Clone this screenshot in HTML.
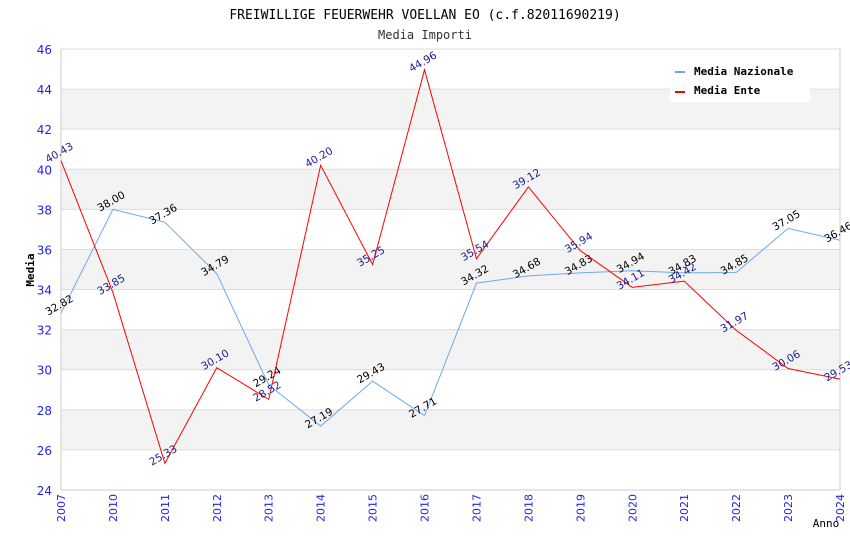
<!DOCTYPE html>
<html><head><meta charset="utf-8"><style>
body{margin:0;background:#fff}
svg{display:block}
text{font-family:"DejaVu Sans","Liberation Sans",sans-serif}
.mono{font-family:"DejaVu Sans Mono","Liberation Mono",monospace}
</style></head><body>
<svg id="chart" width="850" height="550" xmlns="http://www.w3.org/2000/svg">
<text class="mono" x="425" y="19" text-anchor="middle" font-size="13">FREIWILLIGE FEUERWEHR VOELLAN EO (c.f.82011690219)</text>
<text class="mono" x="425" y="39" text-anchor="middle" font-size="12" fill="#333">Media Importi</text>
<g id="grid"></g>
<g id="axes"></g>
<g id="series"></g>
<text class="mono" transform="translate(34,270) rotate(-90)" text-anchor="middle" font-size="11" font-weight="bold">Media</text>
<text class="mono" x="826" y="527" text-anchor="middle" font-size="11">Anno</text>
<g>
<rect x="670" y="60" width="140" height="42" fill="#fff"/>
<rect x="675" y="71" width="10" height="2" fill="#6aaaf0"/>
<text class="mono" x="694" y="75" font-size="11" font-weight="bold">Media Nazionale</text>
<rect x="675" y="91" width="10" height="2" fill="#f00"/>
<text class="mono" x="694" y="94" font-size="11" font-weight="bold">Media Ente</text>
</g>
</svg>
<script>
const categories=["2007","2010","2011","2012","2013","2014","2015","2016","2017","2018","2019","2020","2021","2022","2023","2024"];
const nazionale=[32.82,38.00,37.36,34.79,29.24,27.19,29.43,27.71,34.32,34.68,34.83,34.94,34.83,34.85,37.05,36.46];
const ente=[40.43,33.85,25.33,30.10,28.52,40.20,35.25,44.96,35.54,39.12,35.94,34.11,34.42,31.97,30.06,29.53];
const yTicks=[24,26,28,30,32,34,36,38,40,42,44,46];
const NS="http://www.w3.org/2000/svg";
const X0=61,X1=840,Y0=490,Y1=49,YMIN=24,YMAX=46;
const x=i=>X0+i*(X1-X0)/(categories.length-1);
const y=v=>Y0-(v-YMIN)*(Y0-Y1)/(YMAX-YMIN);
function mk(t,a,p){const e=document.createElementNS(NS,t);for(const k in a)e.setAttribute(k,a[k]);p.appendChild(e);return e;}
const grid=document.getElementById('grid'),axes=document.getElementById('axes'),ser=document.getElementById('series');
for(let k=0;k<yTicks.length-1;k++){
  if(k%2===1){const r=mk('rect',{x:X0,y:y(yTicks[k+1]),width:X1-X0,height:y(yTicks[k])-y(yTicks[k+1]),fill:'#f3f3f3'},grid);
  
  }
}
yTicks.forEach(t=>{
  const l=mk('line',{x1:X0,x2:X1,y1:y(t),y2:y(t),stroke:'#ddd'},grid);
  
  
  const tx=mk('text',{x:52,y:y(t)+5,'text-anchor':'end','font-size':12,fill:'#2222ee'},axes);
  tx.textContent=t;
  
  
});
mk('line',{x1:X0,x2:X0,y1:Y1,y2:Y0,stroke:'#ccc'},axes);
mk('line',{x1:X1,x2:X1,y1:Y1,y2:Y0,stroke:'#ccc'},axes);
mk('line',{x1:X0,x2:X1,y1:Y0,y2:Y0,stroke:'#ccc'},axes);
categories.forEach((c,i)=>{
  const tx=mk('text',{transform:`translate(${x(i)+4},${Y0+4}) rotate(-90)`,'text-anchor':'end','font-size':11,fill:'#2222ee'},axes);
  tx.textContent=c;
  
  
});
function series(vals,color,lblColor,name){
  const p=mk('polyline',{points:vals.map((v,i)=>x(i)+','+y(v)).join(' '),fill:'none',stroke:color,'stroke-width':1},ser);
  
  
  vals.forEach((v,i)=>{
    const t=mk('text',{transform:`translate(${x(i)},${y(v)-5}) rotate(-30)`,'text-anchor':'middle','font-size':10.5,fill:lblColor},ser);
    t.textContent=v.toFixed(2);
    
    
  });
}
series(nazionale,'#6aaaf0','#000','nazionale');
series(ente,'#f00','#1a1a8a','ente');
</script>
</body></html>
